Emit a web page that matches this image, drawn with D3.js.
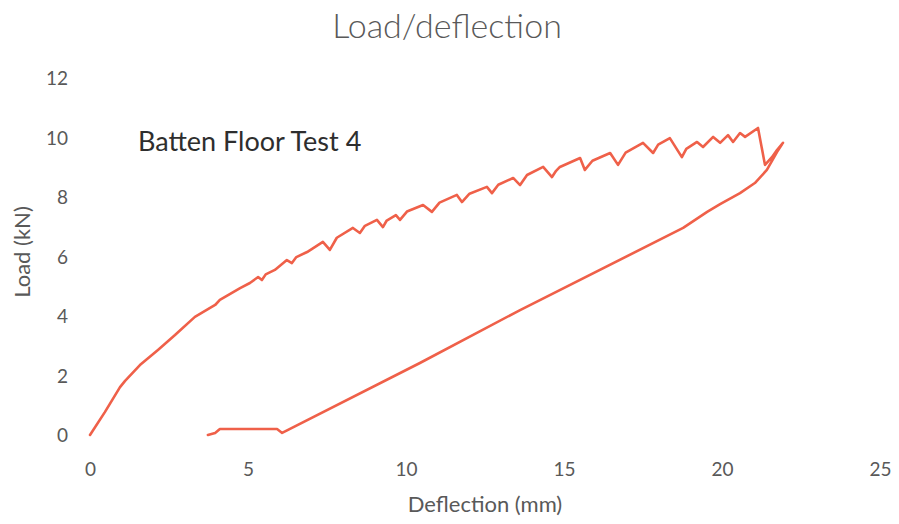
<!DOCTYPE html>
<html>
<head>
<meta charset="utf-8">
<script src="https://cdn.jsdelivr.net/npm/d3@7"></script>
<style>
  html, body { margin: 0; padding: 0; background: #ffffff; }
  svg { display: block; }
</style>
</head>
<body>
<svg id="chart" width="899" height="524"></svg>
<script>
// ---- data ----
const chartTitle = "Load/deflection";
const annotation = "Batten Floor Test 4";
const xTicks = [0, 5, 10, 15, 20, 25];
const yTicks = [0, 2, 4, 6, 8, 10, 12];
const xLabel = "Deflection (mm)";
const yLabel = "Load (kN)";

// deflection (mm) and load (kN), loading then unloading
const deflection = [
  0, 0.47, 0.95, 1.11, 1.58, 2.15, 2.69, 3.32, 3.96, 4.11, 4.75, 5.06, 5.32, 5.44, 5.56,
  5.85, 6.23, 6.39, 6.53, 6.87, 7.37, 7.59, 7.81, 8.32, 8.54, 8.70, 9.08, 9.27, 9.39,
  9.68, 9.81, 10.03, 10.54, 10.82, 11.06, 11.61, 11.77, 12.01, 12.56, 12.72, 12.92,
  13.39, 13.61, 13.83, 14.34, 14.62, 14.75, 14.87, 15.51, 15.66, 15.90, 16.46,
  16.71, 16.95, 17.50, 17.82, 17.98, 18.35, 18.73, 18.87, 19.21, 19.40, 19.72, 19.94,
  20.19, 20.35, 20.57, 20.73, 21.14, 21.36, 21.58, 21.74, 21.93,
  21.74, 21.42, 21.04, 20.57, 19.94, 19.53, 18.77, 13.61, 10.44, 6.08, 5.92, 4.11, 3.96, 3.73
];
const load = [
  0, 0.77, 1.61, 1.82, 2.35, 2.86, 3.36, 3.97, 4.37, 4.54, 4.94, 5.11, 5.31, 5.21, 5.40,
  5.55, 5.88, 5.78, 5.98, 6.15, 6.49, 6.22, 6.63, 6.96, 6.79, 7.03, 7.23, 6.99, 7.21,
  7.39, 7.23, 7.51, 7.73, 7.50, 7.81, 8.07, 7.83, 8.11, 8.34, 8.13, 8.41,
  8.64, 8.40, 8.74, 9.01, 8.67, 8.88, 9.01, 9.31, 8.91, 9.22, 9.48,
  9.08, 9.49, 9.82, 9.48, 9.76, 9.98, 9.34, 9.62, 9.85, 9.68, 10.02, 9.82,
  10.08, 9.85, 10.15, 10.02, 10.32, 9.08, 9.34, 9.58, 9.82,
  9.51, 8.91, 8.47, 8.13, 7.76, 7.50, 6.96, 4.20, 2.42, 0.07, 0.20, 0.20, 0.07, 0.00
];

// ---- drawing ----
const svg = d3.select("#chart");
const W = 899, H = 524;
const margin = { left: 90, right: 19, top: 78, bottom: 89 };

const x = d3.scaleLinear().domain([0, 25]).range([margin.left, W - margin.right]);
const y = d3.scaleLinear().domain([0, 12]).range([H - margin.bottom, margin.top]);

const font = "Lato, 'Open Sans', sans-serif";
const grey = "#595959";

// title
svg.append("text")
  .attr("x", 447).attr("y", 38)
  .attr("text-anchor", "middle")
  .attr("font-family", font)
  .attr("font-weight", 300)
  .attr("font-size", 34)
  .attr("fill", grey)
  .text(chartTitle);

// x axis
const xAxis = d3.axisBottom(x).tickValues(xTicks).tickSize(0).tickPadding(0);
const gx = svg.append("g")
  .attr("transform", `translate(0, ${H - margin.bottom})`)
  .call(xAxis);
gx.select(".domain").remove();
gx.selectAll("text")
  .attr("dy", 0)
  .attr("y", 41)
  .attr("font-family", font)
  .attr("font-size", 19)
  .attr("fill", grey);

// y axis
const yAxis = d3.axisLeft(y).tickValues(yTicks).tickSize(0).tickPadding(0);
const gy = svg.append("g")
  .attr("transform", `translate(${margin.left}, 0)`)
  .call(yAxis);
gy.select(".domain").remove();
gy.selectAll("text")
  .attr("x", -22)
  .attr("dy", "0.36em")
  .attr("font-family", font)
  .attr("font-size", 19)
  .attr("fill", grey);

// axis titles
svg.append("text")
  .attr("x", 485).attr("y", 512)
  .attr("text-anchor", "middle")
  .attr("font-family", font)
  .attr("font-size", 22)
  .attr("fill", grey)
  .text(xLabel);

svg.append("text")
  .attr("transform", `translate(30, 252) rotate(-90)`)
  .attr("text-anchor", "middle")
  .attr("font-family", font)
  .attr("font-size", 22)
  .attr("fill", grey)
  .text(yLabel);

// annotation
svg.append("text")
  .attr("x", 138).attr("y", 151)
  .attr("font-family", font)
  .attr("font-size", 27)
  .attr("fill", "#2e2e2e")
  .text(annotation);

// series
const pts = deflection.map((d, i) => [d, load[i]]);
const line = d3.line().x(d => x(d[0])).y(d => y(d[1]));
svg.append("path")
  .datum(pts)
  .attr("d", line)
  .attr("fill", "none")
  .attr("stroke", "#EF6049")
  .attr("stroke-width", 2.6)
  .attr("stroke-linejoin", "round")
  .attr("stroke-linecap", "round");
</script>
</body>
</html>
